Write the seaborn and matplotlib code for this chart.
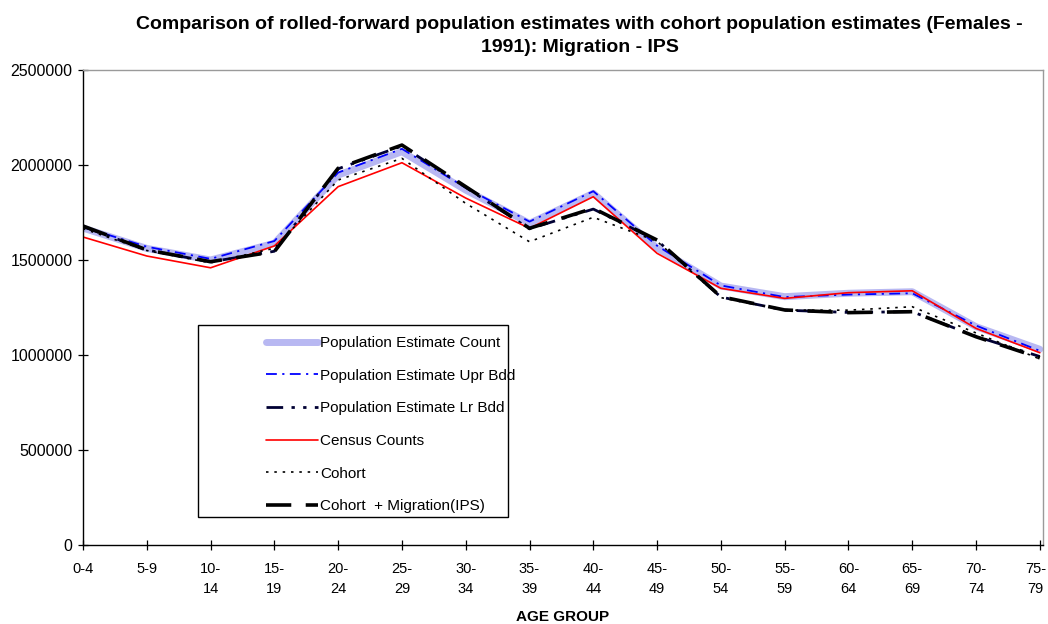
import matplotlib
matplotlib.use("Agg")
import matplotlib.pyplot as plt
import matplotlib.transforms as mtransforms
from matplotlib.patches import Rectangle
import seaborn as sns
import numpy as np
import pandas as pd

age_groups = ["0-4", "5-9", "10-\n14", "15-\n19", "20-\n24", "25-\n29", "30-\n34", "35-\n39",
              "40-\n44", "45-\n49", "50-\n54", "55-\n59", "60-\n64", "65-\n69", "70-\n74", "75-\n79"]

pop_count = [1668000, 1561000, 1500000, 1588000, 1947000, 2070000, 1868000, 1693000,
             1851000, 1563000, 1363000, 1307000, 1325000, 1333000, 1149000, 1030000]
pop_upper = [1673000, 1570000, 1506000, 1600000, 1960000, 2085000, 1880000, 1702000,
             1862000, 1575000, 1366000, 1305000, 1318000, 1325000, 1155000, 1022000]
pop_lower = [1676000, 1553000, 1490000, 1546000, 1980000, 2100000, 1882000, 1664000,
             1768000, 1603000, 1305000, 1236000, 1224000, 1228000, 1098000, 992000]
census = [1621000, 1521000, 1459000, 1574000, 1886000, 2012000, 1826000, 1667000,
          1833000, 1535000, 1351000, 1298000, 1328000, 1338000, 1140000, 1012000]
cohort = [1665000, 1550000, 1485000, 1562000, 1921000, 2035000, 1798000, 1596000,
          1725000, 1598000, 1302000, 1236000, 1236000, 1254000, 1116000, 979000]
cohort_migr = [1679000, 1553000, 1491000, 1544000, 1983000, 2105000, 1886000, 1667000,
               1772000, 1605000, 1307000, 1237000, 1223000, 1228000, 1096000, 985000]

series_names = ["Population Estimate Count", "Population Estimate Upr Bdd",
                "Population Estimate Lr Bdd", "Census Counts", "Cohort",
                "Cohort  + Migration(IPS)"]
series_values = [pop_count, pop_upper, pop_lower, census, cohort, cohort_migr]

styles = [
    dict(color="#b8b8f2", linewidth=5.0, linestyle="-"),
    dict(color="#0000ff", linewidth=1.3, linestyle=(0, (6, 3, 1.2, 3))),
    dict(color="#000033", linewidth=2.0, linestyle=(0, (6, 3, 1.2, 3, 1.2, 3))),
    dict(color="#ff0000", linewidth=1.2, linestyle="-"),
    dict(color="#000000", linewidth=1.2, linestyle=(0, (1.5, 3.5))),
    dict(color="#000000", linewidth=2.6, linestyle=(0, (7, 4))),
]

sns.set_theme(style="white")
plt.rcParams["font.family"] = ["Liberation Sans", "DejaVu Sans"]

fig = plt.figure(figsize=(10.48, 6.24), dpi=100)
ax = fig.add_axes([83 / 1048, 1 - 545 / 624, (1043 - 83) / 1048, (545 - 70) / 624])

x = np.arange(len(age_groups))
for name, vals, st in zip(series_names, series_values, styles):
    df = pd.DataFrame({"x": x, "y": vals})
    sns.lineplot(data=df, x="x", y="y", ax=ax, label=name, **st)

ax.set_xlim(0, 15.05)
ax.set_ylim(0, 2500000)
ax.set_yticks([0, 500000, 1000000, 1500000, 2000000, 2500000])
ax.set_yticklabels(["0", "500000", "1000000", "1500000", "2000000", "2500000"])
ax.set_xticks(x)
ax.set_xticklabels(age_groups, linespacing=1.55)
ax.tick_params(axis="both", which="major", bottom=True, left=True, top=False, right=False,
               direction="inout", length=7, width=0.9, color="black", labelcolor="black")
ax.tick_params(axis="x", pad=9, labelsize=10.5)
ax.tick_params(axis="y", pad=4, labelsize=11.5)
xlabels = ax.get_xticklabels()
for lab in xlabels:
    lab.set_verticalalignment("top")
xlabels[-1].set_transform(xlabels[-1].get_transform() +
                          mtransforms.ScaledTranslation(-4 / 100, 0, fig.dpi_scale_trans))

for side in ["left", "bottom"]:
    ax.spines[side].set_color("black")
    ax.spines[side].set_linewidth(1.0)
for side in ["top", "right"]:
    ax.spines[side].set_color("#9a9a9a")
    ax.spines[side].set_linewidth(1.0)
ax.grid(False)

ax.set_xlabel("AGE GROUP", fontsize=11, fontweight="bold", labelpad=10, color="black")
ax.set_ylabel("")

fig.suptitle("Comparison of rolled-forward population estimates with cohort population estimates (Females -\n1991): Migration - IPS",
             x=0.553, y=0.974, fontsize=14, fontweight="bold", linespacing=1.45, color="black")

# legend frame drawn as a separate box, legend content indented like the reference
box = Rectangle((198 / 1048, 1 - 517 / 624), 310 / 1048, 192 / 624,
                transform=fig.transFigure, facecolor="white",
                edgecolor="black", linewidth=1.0, zorder=4, clip_on=False)
ax.add_patch(box)
leg = ax.legend(loc="upper left", bbox_to_anchor=(266 / 1048, 1 - 336 / 624),
                bbox_transform=fig.transFigure, frameon=False,
                fontsize=11, handlelength=3.4, handletextpad=0.15, labelspacing=1.22,
                borderpad=0, borderaxespad=0)
leg.set_zorder(6)
for t in leg.get_texts():
    t.set_color("black")

fig.savefig("out.png", dpi=100)
